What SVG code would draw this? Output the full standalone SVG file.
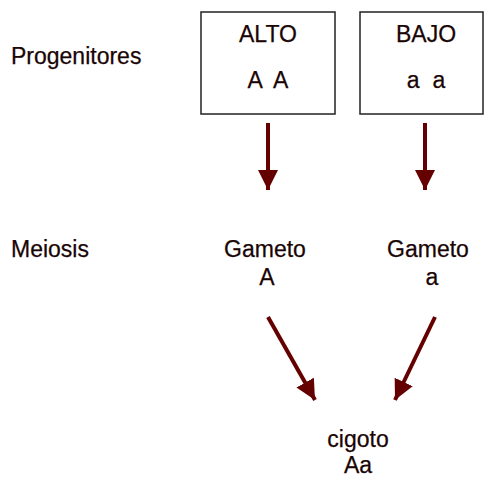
<svg xmlns="http://www.w3.org/2000/svg" width="484" height="480" viewBox="0 0 484 480">
<defs>
<style>
text{font-family:"Liberation Sans",Arial,sans-serif;font-size:23px;fill:#1a0505;stroke:#1a0505;stroke-width:0.25}
.c{text-anchor:middle}
.box{fill:#fff;stroke:#222;stroke-width:1.5}
.arr{stroke:#640000;stroke-width:4;fill:none}
</style>
<marker id="ah" markerUnits="userSpaceOnUse" markerWidth="20" markerHeight="22" refX="20" refY="10" orient="auto">
<path d="M0,0 L20,10 L0,20 Z" fill="#640000"/>
</marker>
</defs>
<rect width="484" height="480" fill="#fff"/>
<g id="label-progenitores"><text x="11" y="64">Progenitores</text></g>
<g id="label-meiosis"><text x="11" y="257">Meiosis</text></g>
<g id="alto"><rect class="box" x="201" y="12" width="134" height="102"/><text class="c" x="268" y="42">ALTO</text><text class="c" x="268" y="88" xml:space="preserve">A  A</text></g>
<g id="bajo"><rect class="box" x="360" y="12" width="123" height="102"/><text class="c" x="426" y="42">BAJO</text><text class="c" x="426" y="88" xml:space="preserve">a  a</text></g>
<g id="gameto-A"><text class="c" x="265" y="257">Gameto</text><text class="c" x="267" y="285">A</text></g>
<g id="gameto-a"><text class="c" x="428" y="257">Gameto</text><text class="c" x="432" y="285">a</text></g>
<g id="cigoto"><text class="c" x="358" y="447">cigoto</text><text class="c" x="358" y="473">Aa</text></g>
<g id="connectors">
<line class="arr" x1="268" y1="123" x2="268" y2="190" marker-end="url(#ah)"/>
<line class="arr" x1="425" y1="123" x2="425" y2="190" marker-end="url(#ah)"/>
<line class="arr" x1="268" y1="317" x2="315" y2="400" marker-end="url(#ah)"/>
<line class="arr" x1="435" y1="317" x2="395" y2="400" marker-end="url(#ah)"/>
</g>
</svg>
